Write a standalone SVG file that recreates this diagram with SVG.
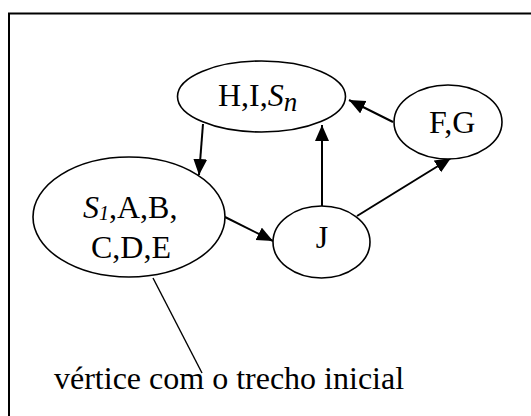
<svg xmlns="http://www.w3.org/2000/svg" width="531" height="416" viewBox="0 0 531 416">
  <style>
    .node { fill: #ffffff; stroke: #000000; stroke-width: 1.6; }
    .lbl { font-family: "Liberation Serif", "Times New Roman", serif; font-size: 32px; fill: #000000; }
    .it { font-style: italic; }
    .edge { stroke: #000000; stroke-width: 2; fill: none; marker-end: url(#arrow); }
    .callout { stroke: #000000; stroke-width: 1.4; fill: none; }
  </style>
  <defs>
    <marker id="arrow" markerUnits="userSpaceOnUse" markerWidth="17" markerHeight="15" refX="16" refY="7" orient="auto">
      <path d="M0,0 L16,7 L0,14 z" fill="#000000"/>
    </marker>
  </defs>
  <rect x="0" y="0" width="531" height="416" fill="#ffffff"/>
  <rect x="9" y="13.5" width="540" height="420" fill="none" stroke="#000000" stroke-width="2"/>

  <g id="connectors">
    <line class="edge" x1="203" y1="124" x2="199" y2="175"/>
    <line class="edge" x1="225" y1="217" x2="273" y2="241"/>
    <line class="edge" x1="322" y1="206" x2="322" y2="125"/>
    <line class="edge" x1="357" y1="216" x2="451" y2="158"/>
    <line class="edge" x1="393" y1="122" x2="349" y2="100"/>
    <line class="callout" x1="153" y1="278" x2="202" y2="373"/>
  </g>

  <g id="node-HISn">
    <ellipse class="node" cx="261.5" cy="96.5" rx="84" ry="35.5"/>
    <text class="lbl" x="218" y="106">H,I,<tspan class="it">S</tspan><tspan class="it" font-size="27" dy="4.5">n</tspan></text>
  </g>

  <g id="node-S1">
    <ellipse class="node" cx="129" cy="217" rx="96" ry="60"/>
    <text class="lbl" x="83" y="218"><tspan class="it">S</tspan><tspan class="it" font-size="20" dy="2">1</tspan><tspan dy="-2">,A,B,</tspan></text>
    <text class="lbl" x="91" y="258">C,D,E</text>
  </g>

  <g id="node-J">
    <ellipse class="node" cx="321.5" cy="242" rx="48.5" ry="36"/>
    <text class="lbl" x="322" y="248" text-anchor="middle">J</text>
  </g>

  <g id="node-FG">
    <ellipse class="node" cx="448" cy="122" rx="54" ry="37"/>
    <text class="lbl" x="429" y="133">F,G</text>
  </g>

  <g id="label">
    <text class="lbl" x="54" y="389">vértice com o trecho inicial</text>
  </g>
</svg>
